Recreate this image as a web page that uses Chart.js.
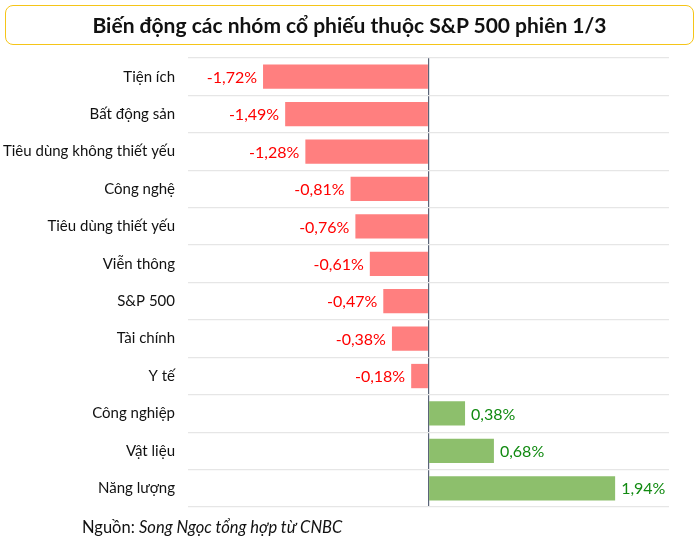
<!DOCTYPE html>
<html lang="vi">
<head>
    <meta charset="UTF-8">
    <title>Biến động các nhóm cổ phiếu thuộc S&P 500 phiên 1/3</title>
    <script src="https://cdn.jsdelivr.net/npm/chart.js"></script>
    <style>
        html, body { margin: 0; padding: 0; background: #fff; }
        #wrap { position: relative; width: 700px; height: 546px; font-family: Lato, "Noto Sans", sans-serif; }
        #title {
            position: absolute; left: 5px; top: 5px; width: 689px; height: 40px;
            border: 1.5px solid #f5c518; border-radius: 8px; box-sizing: border-box;
            text-align: center; line-height: 37px; font-weight: bold; font-size: 21px; color: #111;
        }
        #source { position: absolute; left: 82px; top: 517px; font-size: 16.5px; color: #111; }
        #source i { font-style: italic; }
        canvas { position: absolute; left: 0; top: 0; }
    </style>
</head>
<body>
<div id="wrap">
    <canvas id="myChart" width="700" height="546"></canvas>
    <div id="title">Biến động các nhóm cổ phiếu thuộc S&amp;P 500 phiên 1/3</div>
    <div id="source">Nguồn: <i>Song Ngọc tổng hợp từ CNBC</i></div>
</div>

<script>
    const sectors = [
        "Tiện ích", "Bất động sản", "Tiêu dùng không thiết yếu", "Công nghệ",
        "Tiêu dùng thiết yếu", "Viễn thông", "S&P 500", "Tài chính", "Y tế",
        "Công nghiệp", "Vật liệu", "Năng lượng"
    ];
    const changes = [-1.72, -1.49, -1.28, -0.81, -0.76, -0.61, -0.47, -0.38, -0.18, 0.38, 0.68, 1.94];

    // value labels next to the bar ends
    const valueLabels = {
        id: 'valueLabels',
        afterDatasetsDraw(chart) {
            const ctx = chart.ctx;
            const meta = chart.getDatasetMeta(0);
            ctx.save();
            ctx.font = '16px Lato';
            ctx.textBaseline = 'middle';
            meta.data.forEach((bar, i) => {
                const v = changes[i];
                const txt = v.toFixed(2).replace('.', ',') + '%';
                if (v < 0) {
                    ctx.fillStyle = '#ff0000';
                    ctx.textAlign = 'right';
                    ctx.fillText(txt, bar.x - 6, bar.y + 1);
                } else {
                    ctx.fillStyle = '#118a11';
                    ctx.textAlign = 'left';
                    ctx.fillText(txt, bar.x + 6, bar.y + 1);
                }
            });
            ctx.restore();
        }
    };

    const ctx = document.getElementById('myChart').getContext('2d');
    new Chart(ctx, {
        type: 'bar',
        data: {
            labels: sectors,
            datasets: [{
                data: changes,
                backgroundColor: changes.map(v => v < 0 ? '#ff7f7f' : '#8dbf6c'),
                borderWidth: 0,
                barPercentage: 0.65,
                categoryPercentage: 1
            }]
        },
        options: {
            indexAxis: 'y',
            responsive: false,
            animation: false,
            layout: { padding: { top: 58, right: 31, bottom: 39, left: 0 } },
            plugins: { legend: { display: false }, tooltip: { enabled: false } },
            scales: {
                x: {
                    min: -2.5,
                    max: 2.5,
                    ticks: { display: false, stepSize: 0.5 },
                    border: { display: false },
                    grid: {
                        drawTicks: false,
                        color: c => c.tick && c.tick.value === 0 ? '#5a6478' : 'rgba(0,0,0,0)',
                        lineWidth: 1.2
                    },
                    afterFit: s => { s.height = 0; }
                },
                y: {
                    ticks: { color: '#111', font: { family: 'Lato', size: 15 }, padding: 13 },
                    border: { display: false },
                    grid: { drawTicks: false, color: '#e6e6e6', lineWidth: 1.2 },
                    afterFit: s => { s.width = 188; }
                }
            }
        },
        plugins: [valueLabels]
    });
</script>
</body>
</html>
